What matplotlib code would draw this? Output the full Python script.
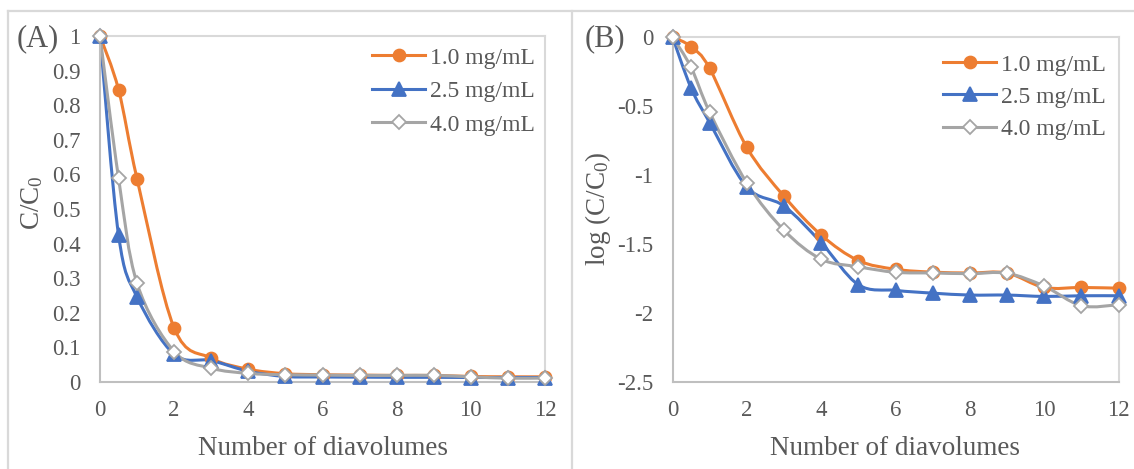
import numpy as np
import matplotlib
matplotlib.use("Agg")
import matplotlib.pyplot as plt
from matplotlib.path import Path
from matplotlib.patches import PathPatch
from matplotlib.lines import Line2D

plt.rcParams['font.family'] = ['Liberation Serif', 'DejaVu Serif']
plt.rcParams['mathtext.fontset'] = 'custom'
plt.rcParams['mathtext.rm'] = 'Liberation Serif'
plt.rcParams['mathtext.it'] = 'Liberation Serif'
plt.rcParams['mathtext.bf'] = 'Liberation Serif'

# ---- data ----
diavolumes = [0, 0.5, 1, 2, 3, 4, 5, 6, 7, 8, 9, 10, 11, 12]
series_names = ["1.0 mg/mL", "2.5 mg/mL", "4.0 mg/mL"]

ratio_10 = [1.0, 0.845, 0.587, 0.156, 0.069, 0.037, 0.024, 0.021, 0.020, 0.019, 0.019, 0.016, 0.015, 0.015]
ratio_25 = [1.0, 0.425, 0.245, 0.080, 0.062, 0.031, 0.016, 0.0145, 0.014, 0.0135, 0.0135, 0.013, 0.013, 0.013]
ratio_40 = [1.0, 0.590, 0.285, 0.088, 0.040, 0.025, 0.021, 0.020, 0.019, 0.019, 0.019, 0.015, 0.011, 0.0115]

log_10 = [0.0, -0.07, -0.228, -0.80, -1.154, -1.435, -1.62, -1.683, -1.704, -1.71, -1.71, -1.815, -1.815, -1.82]
log_25 = [0.0, -0.37, -0.62, -1.087, -1.225, -1.49, -1.795, -1.836, -1.856, -1.87, -1.87, -1.88, -1.875, -1.875]
log_40 = [0.0, -0.22, -0.545, -1.058, -1.40, -1.61, -1.665, -1.705, -1.71, -1.715, -1.712, -1.805, -1.947, -1.94]

left_yticks = [0, 0.1, 0.2, 0.3, 0.4, 0.5, 0.6, 0.7, 0.8, 0.9, 1]
left_yticklabels = ["0", "0.1", "0.2", "0.3", "0.4", "0.5", "0.6", "0.7", "0.8", "0.9", "1"]
right_yticks = [0, -0.5, -1, -1.5, -2, -2.5]
right_yticklabels = ["0", "-0.5", "-1", "-1.5", "-2", "-2.5"]
xticks = [0, 2, 4, 6, 8, 10, 12]

# ---- styles ----
colors = ["#ED7D31", "#4472C4", "#A5A5A5"]
markers = ["o", "^", "D"]
msizes = [8.6, 9.5, 6.8]
facecols = ["#ED7D31", "#4472C4", "white"]
LW = 2.2
TXT = "#595959"

W, H = 1134, 469
fig = plt.figure(figsize=(W / 100, H / 100), dpi=100)


def fx(px):
    return px / W


def fy(py):
    return 1 - py / H


def smooth_path(x, y):
    x = np.asarray(x, float)
    y = np.asarray(y, float)
    n = len(x)
    verts = [(x[0], y[0])]
    codes = [Path.MOVETO]
    for i in range(n - 1):
        i0 = max(i - 1, 0)
        i3 = min(i + 2, n - 1)
        c1 = (x[i] + (x[i + 1] - x[i0]) / 6, y[i] + (y[i + 1] - y[i0]) / 6)
        c2 = (x[i + 1] - (x[i3] - x[i]) / 6, y[i + 1] - (y[i3] - y[i]) / 6)
        verts += [c1, c2, (x[i + 1], y[i + 1])]
        codes += [Path.CURVE4] * 3
    return Path(verts, codes)


def draw_panel(ax, ys, yticks, yticklabels, ylim):
    for k, yv in enumerate(ys):
        p = PathPatch(smooth_path(diavolumes, yv), facecolor="none",
                      edgecolor=colors[k], lw=LW, zorder=2 + k * 0.1,
                      capstyle="round", joinstyle="round")
        ax.add_patch(p)
    for k, yv in enumerate(ys):
        ax.plot(diavolumes, yv, linestyle="none", marker=markers[k],
                ms=msizes[k], mfc=facecols[k], mec=colors[k], mew=1.3,
                zorder=3 + k * 0.1, clip_on=False)
    ax.set_xlim(0, 12)
    ax.set_ylim(*ylim)
    ax.set_xticks(xticks)
    ax.set_yticks(yticks)
    ax.set_yticklabels(yticklabels)
    ax.tick_params(length=0, labelsize=16.5, labelcolor=TXT)
    ax.tick_params(axis="x", pad=13)
    ax.tick_params(axis="y", pad=14)
    for s in ["left", "bottom"]:
        ax.spines[s].set_color("#BFBFBF")
        ax.spines[s].set_linewidth(1.5)
    for s in ["top", "right"]:
        ax.spines[s].set_color("#D9D9D9")
        ax.spines[s].set_linewidth(1.5)
    handles = [Line2D([], [], color=colors[k], lw=LW, marker=markers[k],
                      ms=msizes[k], mfc=facecols[k], mec=colors[k], mew=1.3)
               for k in range(3)]
    return handles


axL = fig.add_axes([fx(100), fy(382), fx(545) - fx(100), fy(36) - fy(382)])
axR = fig.add_axes([fx(672.5), fy(382), fx(1118.5) - fx(672.5), fy(37) - fy(382)])

hL = draw_panel(axL, [ratio_10, ratio_25, ratio_40], left_yticks, left_yticklabels, (0, 1))
hR = draw_panel(axR, [log_10, log_25, log_40], right_yticks, right_yticklabels, (-2.5, 0))

legL = axL.legend(hL, series_names, loc="upper left", bbox_to_anchor=(fx(372), fy(47)),
                  bbox_transform=fig.transFigure, frameon=False, fontsize=17,
                  handlelength=2.25, handletextpad=0.2, labelspacing=0.51,
                  borderpad=0, borderaxespad=0)
legR = axR.legend(hR, series_names, loc="upper left", bbox_to_anchor=(fx(943), fy(54)),
                  bbox_transform=fig.transFigure, frameon=False, fontsize=17,
                  handlelength=2.25, handletextpad=0.2, labelspacing=0.45,
                  borderpad=0, borderaxespad=0)
for leg in (legL, legR):
    for t in leg.get_texts():
        t.set_color(TXT)

# axis labels
fig.text(fx(322.5), fy(448), "Number of diavolumes", ha="center", va="center",
         fontsize=19.5, color=TXT)
fig.text(fx(895.5), fy(448), "Number of diavolumes", ha="center", va="center",
         fontsize=19.5, color=TXT)
fig.text(fx(32), fy(203), "C/C$_0$", rotation=90, ha="center", va="center",
         fontsize=19.5, color=TXT)
fig.text(fx(598), fy(209), "log (C/C$_0$)", rotation=90, ha="center", va="center",
         fontsize=19.5, color=TXT)

# panel labels
fig.text(fx(17), fy(39), "(A)", ha="left", va="center", fontsize=22, color=TXT)
fig.text(fx(585), fy(39), "(B)", ha="left", va="center", fontsize=22, color=TXT)

# outer chart frames
frame_kw = dict(color="#D9D9D9", lw=1.6, transform=fig.transFigure, zorder=0)
fig.add_artist(Line2D([fx(8), 1], [fy(11), fy(11)], **frame_kw))
fig.add_artist(Line2D([fx(8), fx(8)], [fy(11), 0], **frame_kw))
fig.add_artist(Line2D([fx(572), fx(572)], [fy(11), 0], **frame_kw))

fig.savefig("out.png", dpi=100)
